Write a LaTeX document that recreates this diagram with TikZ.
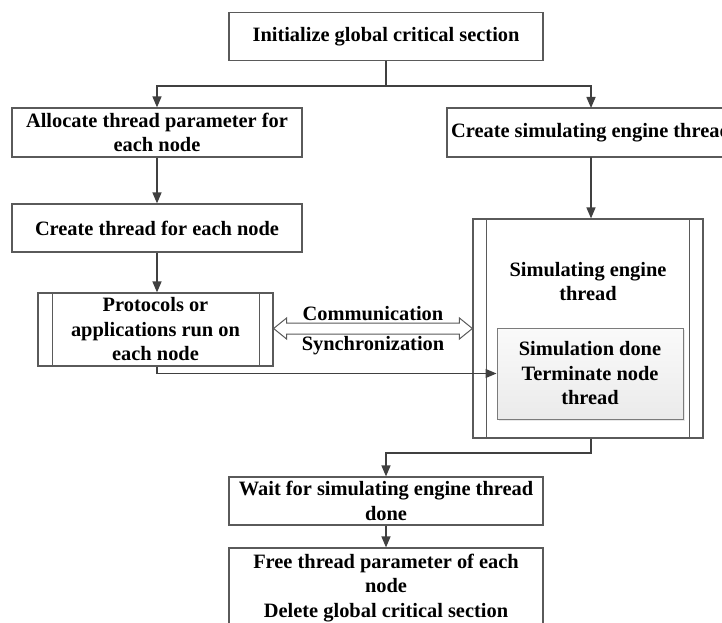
\documentclass[tikz,border=0pt]{standalone}
\usepackage{fontspec}
\setmainfont{Liberation Serif}
\usetikzlibrary{arrows.meta,calc,shadows}
\definecolor{edgec}{HTML}{404040}
\definecolor{framec}{HTML}{5A5A5A}
\begin{document}
\begin{tikzpicture}[x=1pt,y=-1pt,
  every node/.style={font=\fontsize{20.4}{24.5}\selectfont\bfseries, align=center, text=black},
  box/.style={draw=framec, line width=1.2pt, inner sep=0pt},
  conn/.style={draw=edgec, line width=1.5pt, -{Triangle[length=11pt,width=9pt]}},
  plain/.style={draw=edgec, line width=1.5pt},
  procline/.style={draw=framec, line width=1.2pt}]
\useasboundingbox (0,0) rectangle (722,623);

% boxes
\node[box, minimum width=314pt, minimum height=48pt] (init) at (386,36.7) {Initialize global critical section};
\node[box, minimum width=290pt, minimum height=49pt] (alloc) at (157,132.5) {Allocate thread parameter for\\each node};
\node[box, minimum width=288pt, minimum height=49pt] (rbox) at (591,132.5) {Create simulating engine thread};
\node[box, minimum width=290pt, minimum height=48pt] (create) at (157,228) {Create thread for each node};
\node[box, minimum width=235pt, minimum height=73pt] (prot) at (155.5,329.5) {Protocols or\\applications run on\\each node};
\draw[procline] ([xshift=15pt]prot.north west) -- ([xshift=15pt]prot.south west);
\draw[procline] ([xshift=-14pt]prot.north east) -- ([xshift=-14pt]prot.south east);

\node[box, minimum width=230pt, minimum height=219pt] (eng) at (588,328.5) {};
\draw[procline] ([xshift=14pt]eng.north west) -- ([xshift=14pt]eng.south west);
\draw[procline] ([xshift=-14pt]eng.north east) -- ([xshift=-14pt]eng.south east);
\node (englabel) at (588,281.5) {Simulating engine\\thread};
\node[box, draw=framec!80, line width=1pt, top color=gray!4, bottom color=gray!16,
      drop shadow={shadow xshift=1.5pt, shadow yshift=-1.5pt, fill=gray!35},
      minimum width=186pt, minimum height=91pt] (done) at (590,373.5) {Simulation done\\Terminate node\\thread};

\node[box, minimum width=314pt, minimum height=48pt] (wait) at (386,501) {Wait for simulating engine thread\\done};
\node[box, minimum width=314pt, minimum height=80pt] (free) at (386,588) {Free thread parameter of each\\node\\Delete global critical section};

% labels
\node[anchor=base] (lcomm) at (373,320.5) {Communication};
\node[anchor=base] (lsync) at (373,350) {Synchronization};

% connectors
\coordinate (split) at (386,86);
\coordinate (rtop) at (591,108);
\coordinate (rbot) at (591,157);
\coordinate (elbow) at (591,453);
\draw[plain] (init.south) -- (split);
\draw[conn] (split) -| (alloc.north);
\draw[conn] (split) -| (rtop);
\draw[conn] (alloc.south) -- (create.north);
\draw[conn] (create.south) -- (create.south |- prot.north);
\draw[conn] (create.south |- prot.south) |- (done.west);
\draw[conn] (rbot) -- (rbot |- eng.north);
\draw[conn] (eng.south -| elbow) -- (elbow) -| (wait.north);
\draw[conn] (wait.south) -- (free.north);

% hollow double arrow
\coordinate (dl) at (prot.east |- 0,328.5);
\coordinate (dr) at (eng.west |- 0,328.5);
\draw[draw=framec, line width=1pt, fill=white, line join=miter]
  (dl) -- ++(13,-10.5) -- ++(0,5) -- ($(dr)+(-13,-5.5)$) -- ++(0,-5) -- (dr)
  -- ++(-13,10.5) -- ++(0,-5) -- ($(dl)+(13,5.5)$) -- ++(0,5) -- cycle;
\end{tikzpicture}
\end{document}
